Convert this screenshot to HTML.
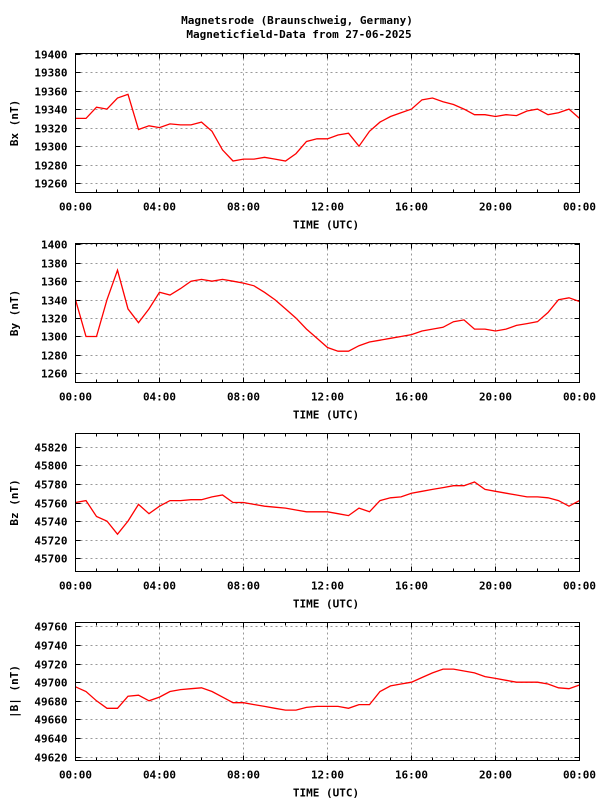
<!DOCTYPE html>
<html><head><meta charset="utf-8"><style>
body{margin:0;background:#fff;width:600px;height:800px;overflow:hidden}
svg text{font-family:"DejaVu Sans Mono","Liberation Mono",monospace;font-weight:bold;font-size:11px;fill:#000}
</style></head><body>
<svg id="chart" width="600" height="800" xmlns="http://www.w3.org/2000/svg">
<text x="297" y="24" text-anchor="middle">Magnetsrode (Braunschweig, Germany)</text>
<text x="299" y="38" text-anchor="middle">Magneticfield-Data from 27-06-2025</text>
</svg>
<script>
const hours = [0,0.5,1,1.5,2,2.5,3,3.5,4,4.5,5,5.5,6,6.5,7,7.5,8,8.5,9,9.5,10,10.5,11,11.5,12,12.5,13,13.5,14,14.5,15,15.5,16,16.5,17,17.5,18,18.5,19,19.5,20,20.5,21,21.5,22,22.5,23,23.5,24];
const bxValues = [19330,19330,19342,19340,19352,19356,19318,19322,19320,19324,19323,19323,19326,19316,19296,19284,19286,19286,19288,19286,19284,19292,19305,19308,19308,19312,19314,19300,19316,19326,19332,19336,19340,19350,19352,19348,19345,19340,19334,19334,19332,19334,19333,19338,19340,19334,19336,19340,19330];
const byValues = [1340,1300,1300,1340,1372,1330,1315,1330,1348,1345,1352,1360,1362,1360,1362,1360,1358,1355,1348,1340,1330,1320,1308,1298,1288,1284,1284,1290,1294,1296,1298,1300,1302,1306,1308,1310,1316,1318,1308,1308,1306,1308,1312,1314,1316,1326,1340,1342,1338];
const bzValues = [45760,45762,45745,45740,45726,45740,45758,45748,45756,45762,45762,45763,45763,45766,45768,45760,45760,45758,45756,45755,45754,45752,45750,45750,45750,45748,45746,45754,45750,45762,45765,45766,45770,45772,45774,45776,45778,45778,45782,45774,45772,45770,45768,45766,45766,45765,45762,45756,45762];
const btValues = [49695,49690,49680,49672,49672,49685,49686,49680,49684,49690,49692,49693,49694,49690,49684,49678,49678,49676,49674,49672,49670,49670,49673,49674,49674,49674,49672,49676,49676,49690,49696,49698,49700,49705,49710,49714,49714,49712,49710,49706,49704,49702,49700,49700,49700,49698,49694,49693,49697];
const xTickLabels = ["00:00","04:00","08:00","12:00","16:00","20:00","00:00"];
const bxTicks = [19260,19280,19300,19320,19340,19360,19380,19400];
const byTicks = [1260,1280,1300,1320,1340,1360,1380,1400];
const bzTicks = [45700,45720,45740,45760,45780,45800,45820];
const btTicks = [49620,49640,49660,49680,49700,49720,49740,49760];

const NS="http://www.w3.org/2000/svg";
const svg=document.getElementById('chart');
function mk(tag,attrs,parent){const e=document.createElementNS(NS,tag);for(const k in attrs)e.setAttribute(k,attrs[k]);(parent||svg).appendChild(e);return e;}
const L=75.5,R=579.5;
function xs(h){return L+(R-L)*h/24;}
function panel(name,label,top,bottom,vTop,vBot,ticks,vals){
  const g=mk('g',{});
  
  
  const ys=v=>top+(vTop-v)/(vTop-vBot)*(bottom-top);
  for(let i=1;i<6;i++){const l=mk('line',{x1:xs(i*4),x2:xs(i*4),y1:top,y2:bottom,stroke:'#999','stroke-dasharray':'2,3','stroke-width':1},g);
    }
  ticks.forEach(t=>{const y=Math.round(ys(t))+0.5;
    const l=mk('line',{x1:L,x2:R,y1:y,y2:y,stroke:'#999','stroke-dasharray':'2,3','stroke-width':1},g);
    
    mk('line',{x1:L,x2:L+5,y1:y,y2:y,stroke:'#000'},g);mk('line',{x1:R-5,x2:R,y1:y,y2:y,stroke:'#000'},g);
    const tx=mk('text',{x:L-8,y:y+4,'text-anchor':'end'},g);tx.textContent=t;
    });
  for(let h=0;h<=24;h++){const x=xs(h);mk('line',{x1:x,x2:x,y1:top,y2:top+(h%4?3:5),stroke:'#000'},g);mk('line',{x1:x,x2:x,y1:bottom,y2:bottom-(h%4?3:5),stroke:'#000'},g);}
  xTickLabels.forEach((t,i)=>{const tx=mk('text',{x:xs(i*4),y:bottom+18,'text-anchor':'middle'},g);tx.textContent=t;
    });
  const xt=mk('text',{x:326,y:bottom+36,'text-anchor':'middle'},g);xt.textContent='TIME (UTC)';
  
  const cy=(top+bottom)/2;
  const yt=mk('text',{x:18,y:cy,'text-anchor':'middle',transform:`rotate(-90 18 ${cy})`},g);yt.textContent=label;
  
  const pts=vals.map((v,i)=>xs(hours[i]).toFixed(1)+','+ys(v).toFixed(1)).join(' ');
  const pl=mk('polyline',{points:pts,fill:'none',stroke:'#f00','stroke-width':1.3},g);
  
  const fr=mk('rect',{x:L,y:top,width:R-L,height:bottom-top,fill:'none',stroke:'#000'},g);
  
}
panel('bx','Bx (nT)',53.5,192.5,19400,19250,bxTicks,bxValues);
panel('by','By (nT)',243.5,382.5,1401,1250,byTicks,byValues);
panel('bz','Bz (nT)',433.5,571.5,45834,45686,bzTicks,bzValues);
panel('btotal','|B| (nT)',622.5,760.5,49764,49616,btTicks,btValues);
</script>
</body></html>
